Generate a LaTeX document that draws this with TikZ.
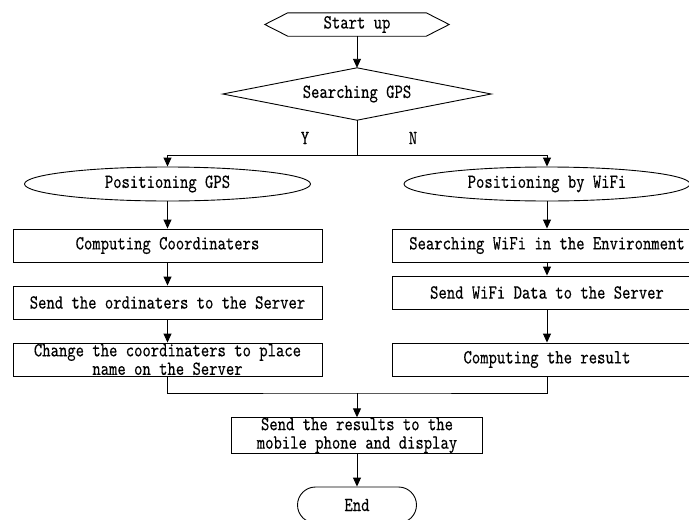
\documentclass[tikz,border=0pt]{standalone}
\usepackage{fontspec}
\setmonofont{lmmono10-regular.otf}[FakeStretch=0.795,FakeBold=0.3]
\usetikzlibrary{arrows.meta,shapes.geometric,calc}

\begin{document}
\begin{tikzpicture}[x=1pt,y=-1pt,
  every node/.style={font=\ttfamily\fontsize{20}{18.5}\selectfont,
                     inner sep=0pt, align=center},
  flow/.style={line width=0.9pt},
  arrow/.style={flow, -{Triangle[length=9pt,width=8pt]}},
  stepbox/.style={draw, line width=0.9pt, minimum width=309pt, minimum height=33pt},
  oval/.style={draw, ellipse, line width=0.9pt, minimum width=286pt, minimum height=34pt},
]
\useasboundingbox (0,0) rectangle (689,520);

% start terminal (hexagon)
\node[minimum width=184pt, minimum height=23pt] (start) at (357,24.5) {Start up};
\draw[flow] (start.west) -- ($(start.north west)+(23,0)$) -- ($(start.north east)+(-23,0)$)
  -- (start.east) -- ($(start.south east)+(-23,0)$) -- ($(start.south west)+(23,0)$) -- cycle;

% decision
\node[minimum width=268pt, minimum height=52pt] (search) at (357,94) {Searching GPS};
\draw[flow] (search.west) -- (search.north) -- (search.east) -- (search.south) -- cycle;

\node (yes) at (305,138) {Y};
\node (no) at (413,138) {N};
\coordinate (split) at (357,155);

% two branches
\node[oval] (gps) at (167.5,184) {Positioning GPS};
\node[oval] (wifi) at (547,184) {Positioning by WiFi};

\node[stepbox] (c1) at (167.5,245.5) {Computing Coordinaters};
\node[stepbox] (c2) at (167.5,302.5) {Send the ordinaters to the Server};
\node[stepbox] (c3) at (167.5,359.5) {Change the coordinaters to place\\name on the Server};

\node[stepbox] (w1) at (547,245.5) {Searching WiFi in the Environment};
\node[stepbox] (w2) at (547,292.5) {Send WiFi Data to the Server};
\node[stepbox] (w3) at (547,359.5) {Computing the result};

\coordinate (merge) at (357,393);
\node[stepbox, minimum width=251pt] (final) at (357,435.5) {Send the results to the\\mobile phone and display};
\node[draw, line width=0.9pt, rounded corners=18pt, minimum width=119pt, minimum height=36pt] (end) at (357,505) {End};

% connectors
\draw[arrow] (start) -- (search);
\draw[flow] (search.south) -- (split);
\draw[arrow] (split) -| (gps.north);
\draw[arrow] (split) -| (wifi.north);
\draw[arrow] (gps) -- (c1);
\draw[arrow] (c1) -- (c2);
\draw[arrow] (c2) -- (c3);
\draw[arrow] (wifi) -- (w1);
\draw[arrow] (w1) -- (w2);
\draw[arrow] (w2) -- (w3);
\draw[flow] (c3.south) |- (merge) -| (w3.south);
\draw[arrow] (merge) -- (final);
\draw[arrow] (final) -- (end);
\end{tikzpicture}
\end{document}
